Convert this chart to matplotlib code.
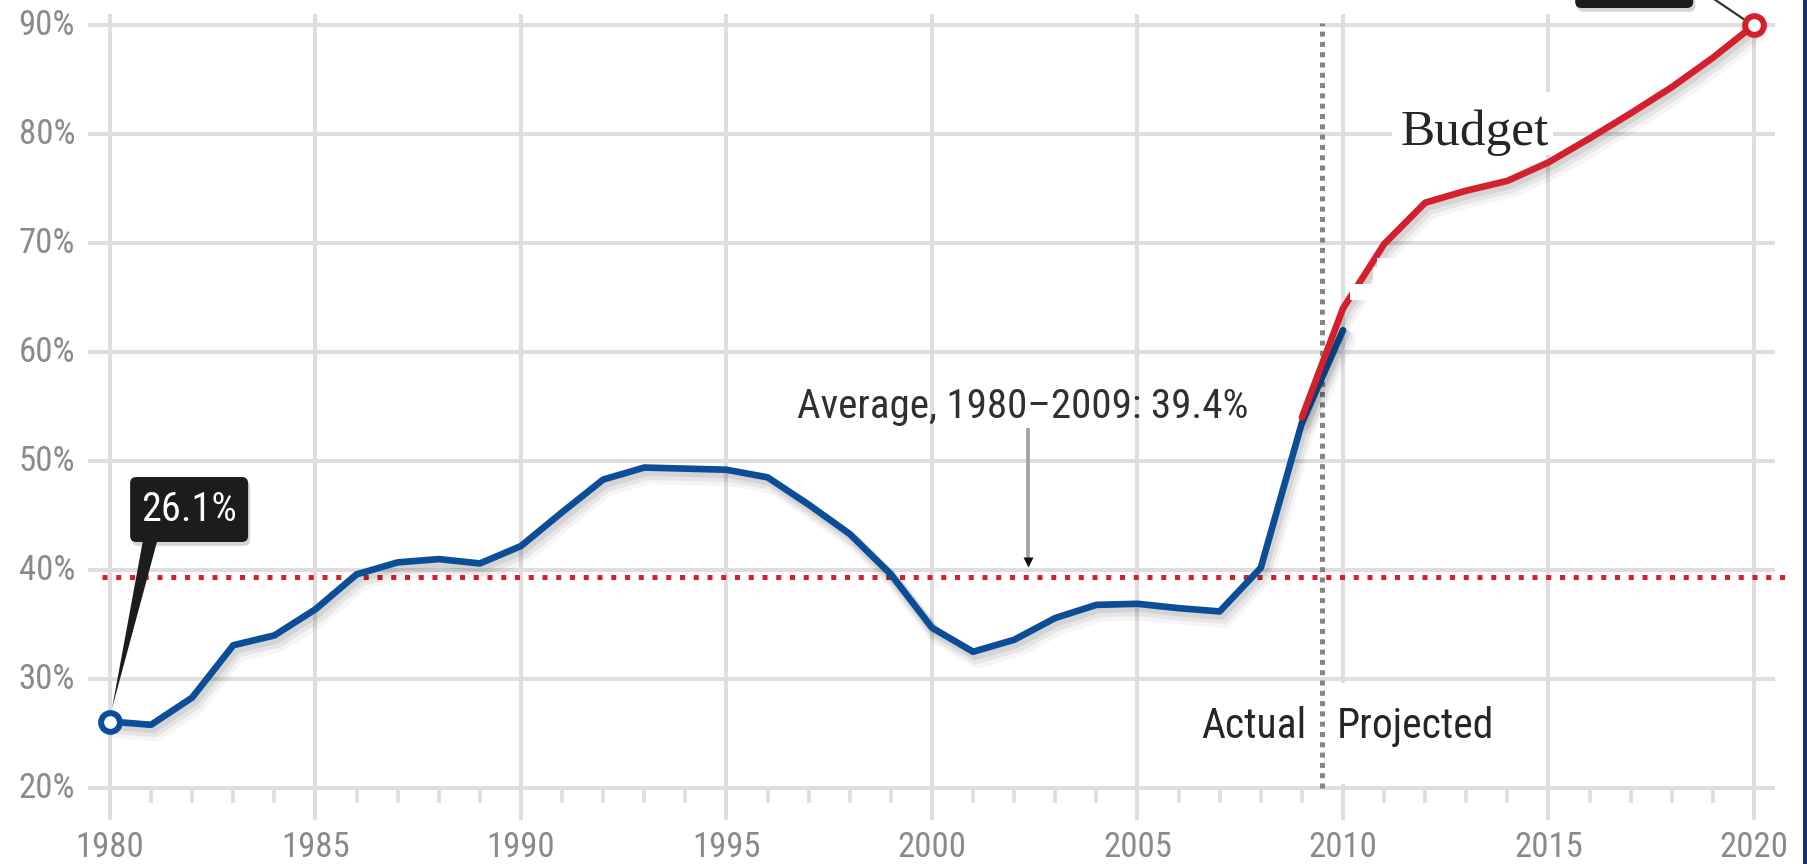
import numpy as np
import matplotlib
matplotlib.use("Agg")
import matplotlib.pyplot as plt
import matplotlib.patheffects as pe
from matplotlib.patches import FancyBboxPatch, Rectangle, Polygon
from matplotlib import font_manager
from matplotlib.font_manager import FontProperties


def pick_family(names, default="DejaVu Sans"):
    for name in names:
        try:
            font_manager.findfont(FontProperties(family=name), fallback_to_default=False)
            return name
        except Exception:
            continue
    return default


SANS = pick_family(["Liberation Sans Narrow", "Roboto Condensed", "Open Sans Condensed", "Liberation Sans"])
SERIF = pick_family(["Liberation Serif", "DejaVu Serif"], "DejaVu Serif")

# ---- data -------------------------------------------------------------
actual_years = list(range(1980, 2011))
actual_share = [26.1, 25.8, 28.3, 33.1, 34.0, 36.4, 39.6, 40.7, 41.0, 40.6,
                42.2, 45.3, 48.3, 49.4, 49.3, 49.2, 48.5, 46.0, 43.3, 39.6,
                34.7, 32.5, 33.6, 35.6, 36.8, 36.9, 36.5, 36.2, 40.2, 53.5,
                62.0]

budget_years = list(range(2009, 2021))
budget_share = [54.0, 64.0, 69.9, 73.7, 74.8, 75.7, 77.4, 79.6, 81.9, 84.3,
                87.0, 90.0]

average_share = 39.4
average_label = "Average, 1980\u20132009: 39.4%"
start_label = "26.1%"
split_year = 2009.5

x_ticks = [1980, 1985, 1990, 1995, 2000, 2005, 2010, 2015, 2020]
y_ticks = [20, 30, 40, 50, 60, 70, 80, 90]

# ---- colours ----------------------------------------------------------
BLUE = "#0b4d97"
RED = "#d3202c"
GRID = "#dedede"
TICK_TXT = "#8a8a8a"
DARK = "#262626"

fig = plt.figure(figsize=(18.08, 8.64), dpi=100)
fig.patch.set_facecolor("white")
ax = fig.add_axes([0, 0, 1, 1])
ax.set_xlim(1977.324, 2021.314)
ax.set_ylim(13.028, 92.294)
ax.axis("off")

# ---- grid -------------------------------------------------------------
ax.vlines(x_ticks, 17.06, 91.0, color=GRID, lw=2.9, zorder=1)
minor = [y for y in range(x_ticks[0] + 1, x_ticks[-1]) if y % 5]
ax.vlines(minor, 18.6, y_ticks[0], color=GRID, lw=2.6, zorder=1)

# white ground behind the "Projected" note hides the 2010 rule there
ax.add_patch(Rectangle((2009.75, 20.4), 3.9, 9.2, fc="white", ec="none", zorder=1.5))

ax.hlines(y_ticks, 1979.46, 2020.51, color=GRID, lw=2.9, zorder=2)

for yv in y_ticks:
    ax.text(1979.15, yv, f"{yv}%", ha="right", va="center", fontsize=25,
            color=TICK_TXT, family=SANS)
for xv in x_ticks:
    ax.text(xv, 14.5, str(xv), ha="center", va="center", fontsize=25,
            color=TICK_TXT, family=SANS)

# ---- average reference line -------------------------------------------
ax.hlines(average_share, 1979.8, 2020.9, color=RED, lw=3.6,
          linestyles=[(0, (1, 1.75))], zorder=3)
ax.text(2002.2, 53.94, average_label, ha="center", va="baseline", fontsize=29.5,
        color="#303030", family=SANS, zorder=4)
arrow_x = 2002.34
ax.plot([arrow_x, arrow_x], [53.0, average_share + 1.6], color="#a0a0a0",
        lw=2.6, solid_capstyle="butt", zorder=4)
ax.plot([arrow_x], [average_share + 1.3], marker="v", ms=7, color="#111111",
        mec="none", zorder=4)

# ---- actual / projected split ------------------------------------------
ax.vlines(split_year, y_ticks[0], 90.2, color="#858585", lw=3.6,
          linestyles=[(0, (1, 1.06))], zorder=3)
ax.text(split_year - 0.4, 25.6, "Actual", ha="right", va="center", fontsize=30,
        color=DARK, family=SANS, zorder=4)
ax.text(split_year + 0.35, 25.6, "Projected", ha="left", va="center", fontsize=30,
        color=DARK, family=SANS, zorder=4)

# ---- series -------------------------------------------------------------
shadow = [
    pe.SimpleLineShadow(offset=(1.5, -2.5), shadow_color="black", alpha=0.08, linewidth=7),
    pe.SimpleLineShadow(offset=(2.5, -4.5), shadow_color="black", alpha=0.06, linewidth=9),
    pe.SimpleLineShadow(offset=(3.5, -6.5), shadow_color="black", alpha=0.04, linewidth=11),
    pe.Normal(),
]
ax.plot(actual_years, actual_share, color=BLUE, lw=4.8, solid_joinstyle="round",
        solid_capstyle="round", zorder=5, path_effects=shadow)
ax.plot(budget_years, budget_share, color=RED, lw=4.8, solid_joinstyle="round",
        solid_capstyle="round", zorder=5.2, path_effects=shadow)

# white mask trimming the right edge of the projected line just past 2010
lo, hi = 64.8, 68.6
bx = np.asarray(budget_years, float)
by = np.asarray(budget_share, float)
x_lo = np.interp(lo, by, bx) + 0.04
x_hi = np.interp(hi, by, bx) + 0.04
ax.add_patch(Polygon([(x_lo, lo), (x_lo, lo + 1.4), (x_hi - 0.1, lo + 1.4),
                      (x_hi - 0.1, hi - 0.8), (x_hi, hi - 0.8), (x_hi, hi),
                      (x_hi + 1.0, hi), (x_hi + 1.0, lo)],
                     closed=True, fc="white", ec="none", zorder=5.5))

ax.text(2011.39, 78.99, "Budget", ha="left", va="baseline", fontsize=37,
        color=DARK, family=SERIF, zorder=4)
ax.add_patch(Rectangle((2011.2, 78.07), 3.9, 5.8, fc="white", ec="none", zorder=3.5))

# end-point markers
ax.plot(actual_years[0], actual_share[0], "o", ms=13.5, mfc="white", mec=BLUE,
        mew=4.3, zorder=8)
ax.plot(budget_years[-1], budget_share[-1], "o", ms=13.5, mfc="white", mec=RED,
        mew=4.3, zorder=8)

# ---- callout for the 1980 value -----------------------------------------
aspect = 41.1 / 10.9
box_x0, box_y0, box_w, box_h = 1980.49, 42.57, 2.87, 5.96
ax.add_patch(FancyBboxPatch((box_x0 + 0.05, box_y0 - 0.35), box_w, box_h,
                            boxstyle="round,pad=0,rounding_size=0.15",
                            mutation_aspect=aspect, fc="#b9b9b9", ec="none",
                            alpha=0.6, zorder=6))
ax.add_patch(FancyBboxPatch((box_x0, box_y0), box_w, box_h,
                            boxstyle="round,pad=0,rounding_size=0.15",
                            mutation_aspect=aspect, fc="#1c1c1c", ec="none",
                            zorder=6.5))
tip = (actual_years[0] + 0.05, actual_share[0] + 1.2)
ax.add_patch(Polygon([(1980.8, box_y0 + 0.1), (1981.15, box_y0 + 0.1), tip],
                     closed=True, fc="#1c1c1c", ec="none", zorder=6.5))
ax.text(box_x0 + box_w / 2, box_y0 + box_h / 2, start_label, ha="center",
        va="center", fontsize=29, color="white", family=SANS, zorder=7)

# ---- callout for the 2020 value (runs off the top edge) ------------------
tb_x0, tb_y0 = 2015.65, 91.56
ax.add_patch(FancyBboxPatch((tb_x0 + 0.05, tb_y0 - 0.35), 2.87, 5.0,
                            boxstyle="round,pad=0,rounding_size=0.15",
                            mutation_aspect=aspect, fc="#b9b9b9", ec="none",
                            alpha=0.6, zorder=6, clip_on=False))
ax.add_patch(FancyBboxPatch((tb_x0, tb_y0), 2.87, 5.0,
                            boxstyle="round,pad=0,rounding_size=0.15",
                            mutation_aspect=aspect, fc="#1c1c1c", ec="none",
                            zorder=6.5, clip_on=False))
ax.plot([2018.98, budget_years[-1] - 0.22], [92.5, budget_share[-1] + 0.46],
        color="#333333", lw=1.6, zorder=6.5)

# ---- navy frame edge -----------------------------------------------------
fig.patches.append(Rectangle((1803 / 1808, 0), 5 / 1808, 1, transform=fig.transFigure,
                             fc="#1c2e6e", ec="none", zorder=10))

fig.savefig("out.png", dpi=100, facecolor="white")
